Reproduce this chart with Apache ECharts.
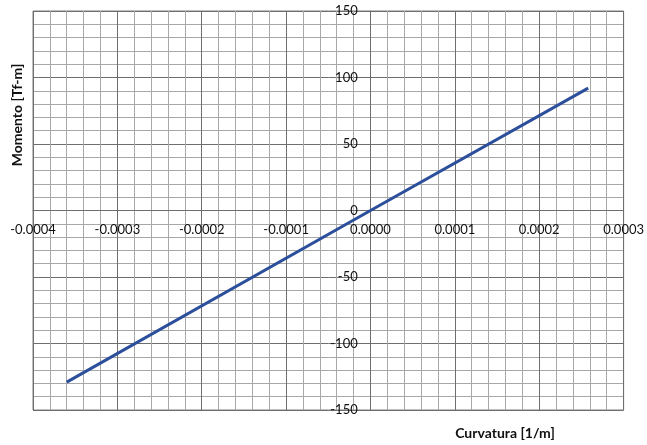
<!DOCTYPE html>
<html>
<head>
<meta charset="utf-8">
<script src="https://cdn.jsdelivr.net/npm/echarts@6/dist/echarts.min.js"></script>
<style>html,body{margin:0;padding:0;background:#fff}#c{width:647px;height:445px}</style>
</head>
<body>
<div id="c"></div>
<script>
const curvature = [-0.00036, 0.0, 0.000258];
const moment = [-129, 0, 92];
const xTitle = 'Curvatura [1/m]';
const yTitle = 'Momento [Tf-m]';

const chart = echarts.init(document.getElementById('c'));
const font = 'Lato';
const gl = 33, gt = 11, gw = 591, gh = 399;
const xMin = -0.0004, xMax = 0.0003, yMin = -150, yMax = 150;
const xOff = -(gh * (0 - yMin) / (yMax - yMin));
const yOff = -(gw * (0 - xMin) / (xMax - xMin));
chart.setOption({
  animation: false,
  backgroundColor: '#fff',
  grid: {left: gl, top: gt, width: gw, height: gh, show: true, borderColor: '#808080', borderWidth: 1},
  xAxis: {
    type: 'value', min: xMin, max: xMax, interval: 0.0001,
    position: 'bottom', offset: xOff,
    axisLine: {onZero: false, lineStyle: {color: '#6e6e6e', width: 1}},
    axisTick: {show: false},
    minorTick: {show: false, splitNumber: 5},
    axisLabel: {margin: 13, fontFamily: font, fontSize: 13, color: '#111', formatter: v => v.toFixed(4)},
    splitLine: {show: true, lineStyle: {color: '#6e6e6e', width: 1}},
    minorSplitLine: {show: true, lineStyle: {color: '#a8a8a8', width: 1}}
  },
  yAxis: {
    type: 'value', min: yMin, max: yMax, interval: 50,
    position: 'left', offset: yOff,
    axisLine: {onZero: false, lineStyle: {color: '#6e6e6e', width: 1}},
    axisTick: {show: false},
    minorTick: {show: false, splitNumber: 5},
    axisLabel: {margin: 13, fontFamily: font, fontSize: 13, color: '#111'},
    splitLine: {show: true, lineStyle: {color: '#6e6e6e', width: 1}},
    minorSplitLine: {show: true, lineStyle: {color: '#a8a8a8', width: 1}}
  },
  graphic: [
    {type: 'text', x: 17, y: 115, rotation: Math.PI / 2,
     style: {text: yTitle, font: 'bold 14px Lato', fill: '#111', align: 'center', verticalAlign: 'middle'}},
    {type: 'text', x: 505, y: 433,
     style: {text: xTitle, font: 'bold 14px Lato', fill: '#111', align: 'center', verticalAlign: 'middle'}}
  ],
  series: [{
    type: 'line', data: curvature.map((c, i) => [c, moment[i]]),
    symbol: 'none', lineStyle: {color: '#2c4f9c', width: 3}
  }]
});
</script>
</body>
</html>
